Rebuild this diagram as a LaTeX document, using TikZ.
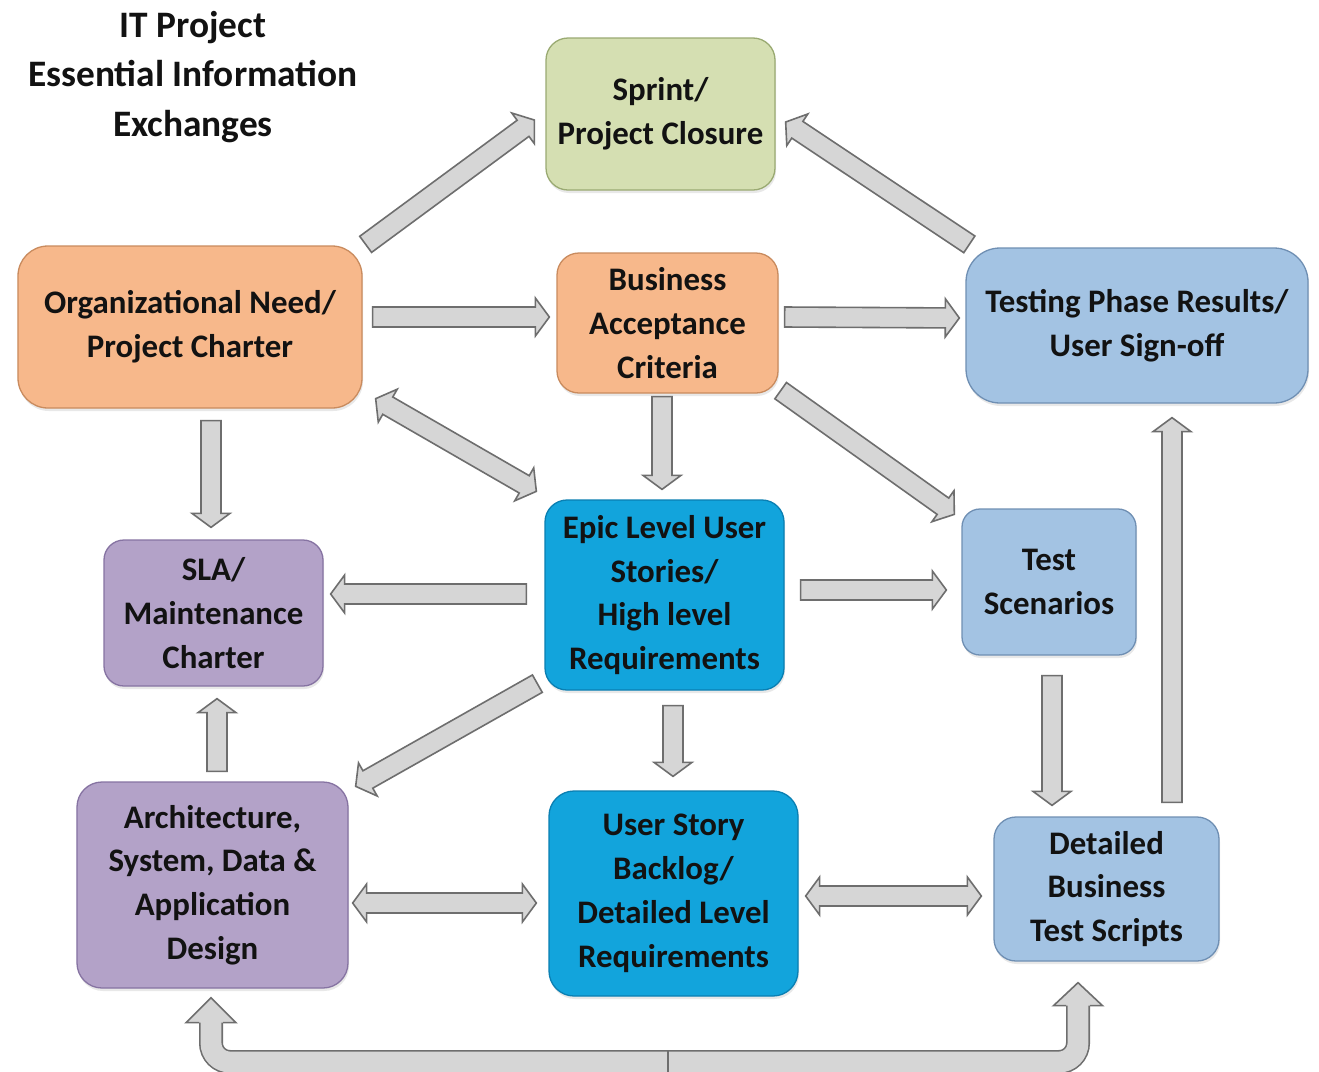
\documentclass[tikz,border=0pt]{standalone}
\usepackage{fontspec}
\setmainfont{Carlito}
\usetikzlibrary{calc,shadows}

% box colours
\definecolor{orangefill}{HTML}{F7B88B}
\definecolor{orangeline}{HTML}{C98B5E}
\definecolor{greenfill}{HTML}{D5DFB2}
\definecolor{greenline}{HTML}{9AAA72}
\definecolor{bluefill}{HTML}{A3C3E3}
\definecolor{blueline}{HTML}{6F8FB3}
\definecolor{purplefill}{HTML}{B3A2C8}
\definecolor{purpleline}{HTML}{8673A2}
\definecolor{cyanfill}{HTML}{12A4DC}
\definecolor{cyanline}{HTML}{0A7FB2}
\definecolor{textdark}{HTML}{121212}
% block arrow colours
\definecolor{arrfill}{HTML}{D6D6D6}
\definecolor{arrline}{HTML}{6E6E6E}

\newcommand{\boxfont}{\fontsize{33}{44}\selectfont\bfseries}
\newcommand{\titlefont}{\fontsize{37.5}{50}\selectfont\bfseries}

% block arrow geometry
\newcommand{\arrsw}{10bp}  % half shaft width
\newcommand{\arrhw}{19bp}  % half head width
\newcommand{\arrhl}{14bp}  % head length

\tikzset{
  box/.style={draw, line width=1.3bp, inner sep=0pt, align=center,
    font=\boxfont, text=textdark,
    drop shadow={shadow xshift=1bp, shadow yshift=-3bp, opacity=0.18}},
  orangebox/.style={box, fill=orangefill, draw=orangeline},
  greenbox/.style={box, fill=greenfill, draw=greenline},
  bluebox/.style={box, fill=bluefill, draw=blueline},
  purplebox/.style={box, fill=purplefill, draw=purpleline},
  cyanbox/.style={box, fill=cyanfill, draw=cyanline},
  arrowbody/.style={fill=arrfill, draw=arrline, line width=1.6bp, line join=miter},
  shaftouter/.style={draw=arrline, line width=24bp, rounded corners=19bp},
  shaftinner/.style={draw=arrfill, line width=20.8bp, rounded corners=19bp},
}

% straight block arrow: #1 = number of heads (1 or 2), #2 start, #3 end
\newcommand{\blockarrow}[3]{%
  \path #2; \pgfgetlastxy{\bax}{\bay}%
  \path #3; \pgfgetlastxy{\bbx}{\bby}%
  \pgfmathsetmacro{\baang}{atan2((\bby)-(\bay),(\bbx)-(\bax))}%
  \pgfmathsetmacro{\balen}{veclen((\bbx)-(\bax),(\bby)-(\bay))}%
  \begin{scope}[shift={(\bax,\bay)}, rotate=\baang]
    \ifnum#1=1\relax
      \draw[arrowbody] (0pt,-\arrsw) -- ({\balen pt-\arrhl},-\arrsw)
        -- ({\balen pt-\arrhl},-\arrhw) -- (\balen pt,0pt)
        -- ({\balen pt-\arrhl},\arrhw) -- ({\balen pt-\arrhl},\arrsw)
        -- (0pt,\arrsw) -- cycle;
    \else
      \draw[arrowbody] (\arrhl,-\arrsw) -- ({\balen pt-\arrhl},-\arrsw)
        -- ({\balen pt-\arrhl},-\arrhw) -- (\balen pt,0pt)
        -- ({\balen pt-\arrhl},\arrhw) -- ({\balen pt-\arrhl},\arrsw)
        -- (\arrhl,\arrsw) -- (\arrhl,\arrhw) -- (0pt,0pt)
        -- (\arrhl,-\arrhw) -- cycle;
    \fi
  \end{scope}}

\begin{document}
\begin{tikzpicture}[x=1bp,y=-1bp]
\useasboundingbox (0,0) rectangle (1319,1071);
\fill[white] (0,0) rectangle (1319,1071);

% title
\node[font=\titlefont, text=textdark, align=center] (title) at (193,77)
  {IT Project\\Essential Information\\Exchanges};

% information boxes
\node[greenbox, rounded corners=22bp, minimum width=229bp, minimum height=152bp]
  (sprint) at (660.5,114) {Sprint/\\Project Closure};
\node[orangebox, rounded corners=30bp, minimum width=344bp, minimum height=162bp]
  (org) at (190,327) {Organizational Need/\\Project Charter};
\node[orangebox, rounded corners=22bp, minimum width=221bp, minimum height=140bp]
  (bac) at (667.5,323) {Business\\Acceptance\\Criteria};
\node[bluebox, rounded corners=34bp, minimum width=342bp, minimum height=155bp]
  (test) at (1137,325.5) {Testing Phase Results/\\User Sign-off};
\node[purplebox, rounded corners=20bp, minimum width=219bp, minimum height=146bp]
  (sla) at (213.5,613) {SLA/\\Maintenance\\Charter};
\node[cyanbox, rounded corners=22bp, minimum width=239bp, minimum height=190bp]
  (epic) at (664.5,595) {Epic Level User\\Stories/\\High level\\Requirements};
\node[bluebox, rounded corners=18bp, minimum width=174bp, minimum height=146bp]
  (scen) at (1049,582) {Test\\Scenarios};
\node[purplebox, rounded corners=25bp, minimum width=271bp, minimum height=206bp]
  (arch) at (212.5,885) {Architecture,\\System, Data \&\\Application\\Design};
\node[cyanbox, rounded corners=25bp, minimum width=249bp, minimum height=205bp]
  (usb) at (673.5,893.5) {User Story\\Backlog/\\Detailed Level\\Requirements};
\node[bluebox, rounded corners=22bp, minimum width=225bp, minimum height=144bp]
  (dbts) at (1106.5,889) {Detailed\\Business\\Test Scripts};

% straight block arrows
\blockarrow{1}{([xshift=3bp,yshift=1bp]org.north east)}{([xshift=-11bp,yshift=-6bp]sprint.west)}
\blockarrow{1}{([xshift=4bp,yshift=3bp]test.north west)}{([xshift=10bp,yshift=-8bp]sprint.east)}
\blockarrow{1}{([xshift=10bp,yshift=10bp]org.east)}{([xshift=-7bp,yshift=6bp]bac.west)}
\blockarrow{1}{([xshift=6bp,yshift=6bp]bac.east)}{([xshift=-6bp,yshift=7.5bp]test.west)}
\blockarrow{2}{([xshift=13bp,yshift=10bp]org.south east)}{([xshift=-8bp,yshift=8bp]epic.north west)}
\blockarrow{1}{([xshift=-5.5bp,yshift=-3bp]bac.south)}{([xshift=-2.5bp,yshift=10bp]epic.north)}
\blockarrow{1}{([xshift=2bp,yshift=3bp]bac.south east)}{([xshift=-7bp,yshift=-6bp]scen.north west)}
\blockarrow{1}{([xshift=21bp,yshift=-12bp]org.south)}{([xshift=-2.5bp,yshift=12bp]sla.north)}
\blockarrow{1}{([xshift=-18bp,yshift=1bp]epic.west)}{([xshift=7bp,yshift=19bp]sla.east)}
\blockarrow{1}{([xshift=16bp,yshift=5bp]epic.east)}{([xshift=-15bp,yshift=-8bp]scen.west)}
\blockarrow{1}{([xshift=-7bp,yshift=7bp]epic.south west)}{([xshift=7bp,yshift=-5bp]arch.north east)}
\blockarrow{1}{([xshift=4.5bp,yshift=10bp]arch.north)}{([xshift=3.5bp,yshift=-12bp]sla.south)}
\blockarrow{1}{([xshift=8.5bp,yshift=-15bp]epic.south)}{([xshift=-0.5bp,yshift=14bp]usb.north)}
\blockarrow{2}{([xshift=4bp,yshift=-18bp]arch.east)}{([xshift=-12bp,yshift=-9.5bp]usb.west)}
\blockarrow{2}{([xshift=7bp,yshift=-2.5bp]usb.east)}{([xshift=-12bp,yshift=-7bp]dbts.west)}
\blockarrow{1}{([xshift=3bp,yshift=-20bp]scen.south)}{([xshift=-54.5bp,yshift=11bp]dbts.north)}
\blockarrow{1}{([xshift=65.5bp,yshift=14bp]dbts.north)}{([xshift=35bp,yshift=-14bp]test.south)}

% bent feedback arrows along the bottom
\coordinate (lt) at ([xshift=-1.5bp,yshift=-9bp]arch.south);
\coordinate (rt) at ([xshift=-28.5bp,yshift=-21bp]dbts.south);
\coordinate (bm) at (668,1062);
\draw[shaftouter] ($(lt)+(0,24)$) |- (bm);
\draw[shaftinner] ($(lt)+(0,24)$) |- (bm);
\draw[shaftouter] ($(rt)+(0,22)$) |- (bm);
\draw[shaftinner] ($(rt)+(0,22)$) |- (bm);
\filldraw[arrowbody] ($(lt)+(-12,25)$) -- ($(lt)+(-25,25)$) -- (lt)
  -- ($(lt)+(25,25)$) -- ($(lt)+(12,25)$);
\filldraw[arrowbody] ($(rt)+(-12,23)$) -- ($(rt)+(-24.5,23)$) -- (rt)
  -- ($(rt)+(24.5,23)$) -- ($(rt)+(12,23)$);
\draw[draw=arrline, line width=1.6bp] ($(bm)+(0,-12)$) -- ($(bm)+(0,12)$);
\end{tikzpicture}
\end{document}
